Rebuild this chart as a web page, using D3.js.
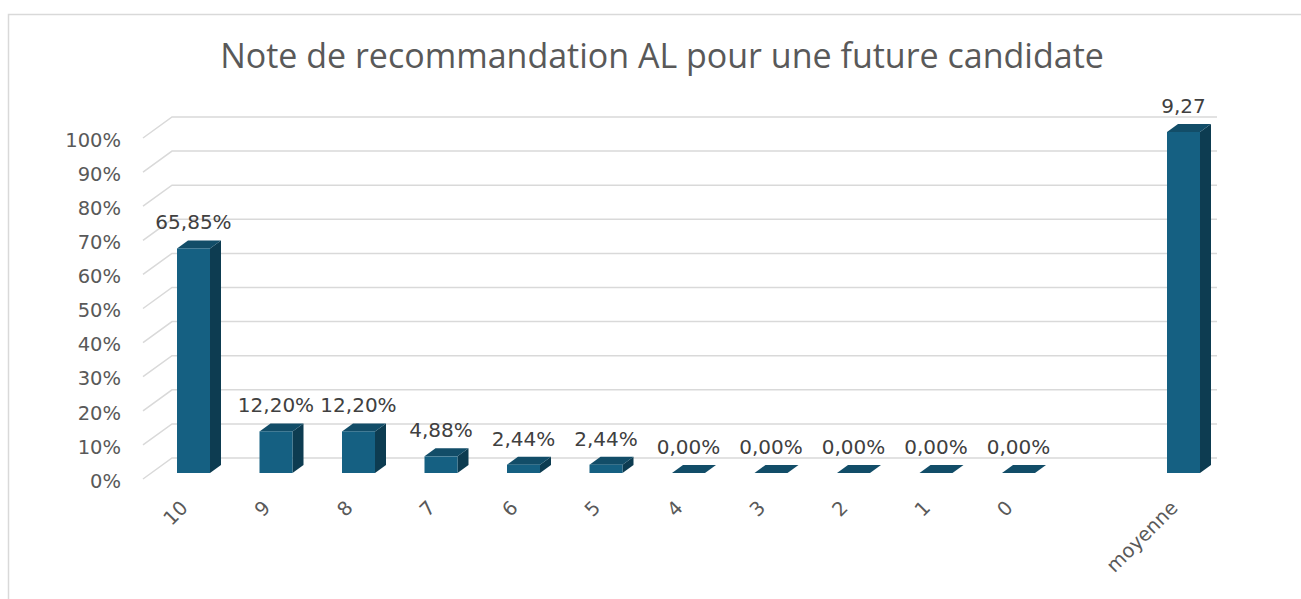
<!DOCTYPE html>
<html>
<head>
<meta charset="utf-8">
<script src="https://cdn.jsdelivr.net/npm/d3@7"></script>
<style>
  html, body { margin: 0; padding: 0; background: #fff; }
  svg { display: block; }
</style>
</head>
<body>
<svg id="chart" width="1301" height="599"></svg>
<script>
const title = 'Note de recommandation AL pour une future candidate';
const categories = ['10', '9', '8', '7', '6', '5', '4', '3', '2', '1', '0'];
const shares = [65.85, 12.20, 12.20, 4.88, 2.44, 2.44, 0, 0, 0, 0, 0];
const meanLabel = 'moyenne';
const meanValue = 9.27;
const yTicks = [0, 10, 20, 30, 40, 50, 60, 70, 80, 90, 100];

const svg = d3.select('#chart');
const width = 1301, height = 599;

// frame
svg.append('rect').attr('x', 8.5).attr('y', 14.5).attr('width', width).attr('height', height)
  .attr('fill', '#fff').attr('stroke', '#d9d9d9').attr('stroke-width', 1.5);

svg.append('text').attr('x', 662).attr('y', 68).attr('text-anchor', 'middle')
  .attr('font-family', 'Open Sans, sans-serif').attr('font-size', 34).attr('fill', '#595959')
  .text(title);

// slots: the ten notes, an empty slot, then the mean
const slots = [...categories, '', meanLabel];
const x = d3.scalePoint(slots, [193.5, 1183.5]);
const y = d3.scaleLinear([0, 100], [473, 132]).clamp(true);

// 3d offsets
const wall = { dx: 29, back: -15, front: 6, left: 143, right: 1217 };
const depth = { dx: 11, dy: -8 };
const halfW = 16.5;

const grid = svg.append('g').attr('stroke', '#d9d9d9').attr('stroke-width', 1.5).attr('fill', 'none');
grid.selectAll('path').data(yTicks).join('path')
  .attr('d', (t) => `M${wall.left},${y(t) + wall.front}L${wall.left + wall.dx},${y(t) + wall.back}H${wall.right}`);

const yAxis = svg.append('g').attr('transform', 'translate(121,8)')
  .call(d3.axisLeft(y).tickValues(yTicks).tickSize(0).tickPadding(0).tickFormat((t) => `${t}%`));
yAxis.select('.domain').remove();
yAxis.selectAll('text').attr('font-family', 'DejaVu Sans, sans-serif').attr('font-size', 19.5).attr('fill', '#595959');

const bars = categories.map((c, i) => ({ key: c, v: shares[i], label: shares[i].toFixed(2).replace('.', ',') + '%' }));
bars.push({ key: meanLabel, v: meanValue * 100, label: meanValue.toFixed(2).replace('.', ',') });

const g = svg.append('g');
const bar = g.selectAll('g').data(bars).join('g');
bar.append('path').attr('fill', '#0d3c51')
  .attr('d', (d) => {
    const r = x(d.key) + halfW, t = y(d.v), b = y(0);
    return `M${r},${b}L${r + depth.dx},${b + depth.dy}L${r + depth.dx},${t + depth.dy}L${r},${t}Z`;
  });
bar.append('path').attr('fill', '#124d68')
  .attr('d', (d) => {
    const l = x(d.key) - halfW, r = x(d.key) + halfW, t = y(d.v);
    return `M${l},${t}L${l + depth.dx},${t + depth.dy}L${r + depth.dx},${t + depth.dy}L${r},${t}Z`;
  });
bar.append('rect').attr('fill', '#156082')
  .attr('x', (d) => x(d.key) - halfW).attr('width', halfW * 2)
  .attr('y', (d) => y(d.v)).attr('height', (d) => y(0) - y(d.v));

g.selectAll('text.lbl').data(bars).join('text').attr('class', 'lbl')
  .attr('x', (d) => x(d.key)).attr('y', (d) => y(d.v) - 19)
  .attr('text-anchor', 'middle').attr('font-family', 'DejaVu Sans, sans-serif').attr('font-size', 20)
  .attr('fill', '#404040').text((d) => d.label);

const xAxis = svg.append('g').attr('transform', 'translate(-5,509)')
  .call(d3.axisBottom(x).tickValues(slots.filter((s) => s !== '')).tickSize(0).tickPadding(0));
xAxis.select('.domain').remove();
xAxis.selectAll('text').attr('y', 0).attr('dy', 0)
  .attr('transform', 'rotate(-45)').attr('text-anchor', 'end')
  .attr('font-family', 'DejaVu Sans, sans-serif').attr('font-size', 19.5).attr('fill', '#595959');
</script>
</body>
</html>
